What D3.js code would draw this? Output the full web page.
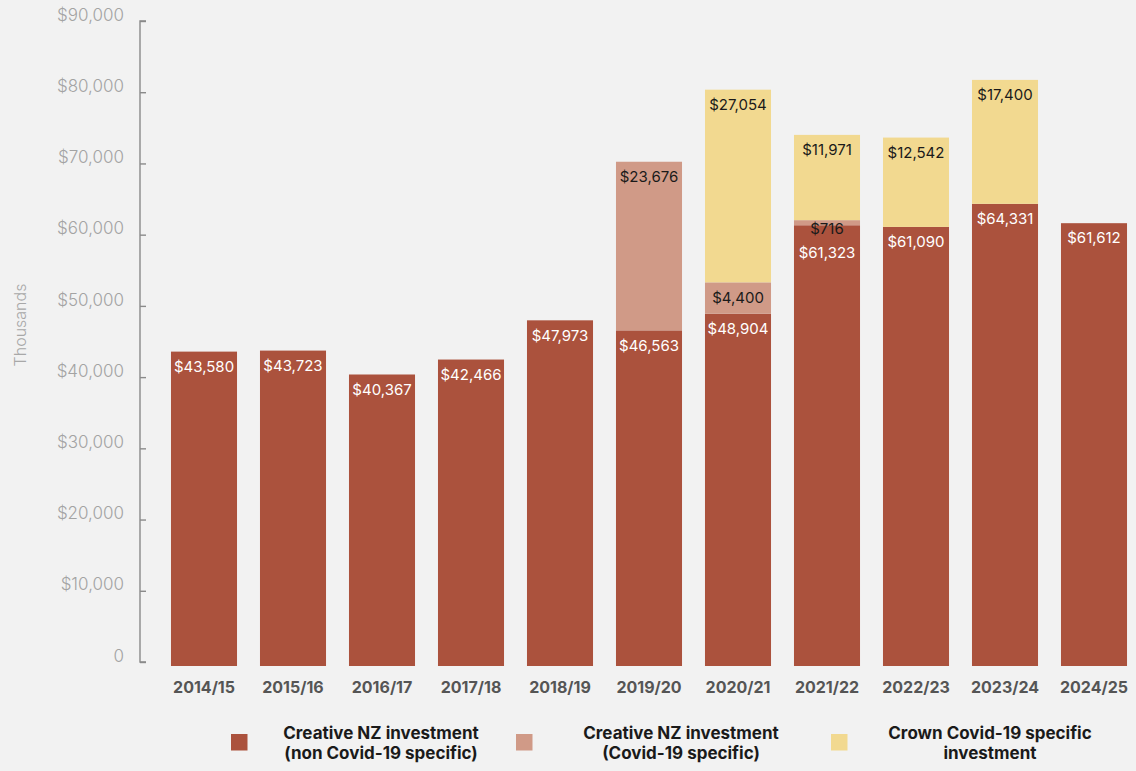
<!DOCTYPE html>
<html>
<head>
<meta charset="utf-8">
<script src="https://cdn.jsdelivr.net/npm/d3@7"></script>
<style>
  html, body { margin: 0; padding: 0; background: #f2f2f2; }
  svg { display: block; font-family: "Inter", "Noto Sans", sans-serif; }
</style>
</head>
<body>
<svg id="chart" width="1136" height="771"></svg>
<script>
// Funding by year, in thousands of dollars
const years = ["2014/15", "2015/16", "2016/17", "2017/18", "2018/19", "2019/20",
               "2020/21", "2021/22", "2022/23", "2023/24", "2024/25"];
const nonCovid   = [43580, 43723, 40367, 42466, 47973, 46563, 48904, 61323, 61090, 64331, 61612];
const covidCNZ   = [0, 0, 0, 0, 0, 23676, 4400, 716, 0, 0, 0];
const covidCrown = [0, 0, 0, 0, 0, 0, 27054, 11971, 12542, 17400, 0];

const seriesKeys   = ["nonCovid", "covidCNZ", "covidCrown"];
const seriesLabels = [
  ["Creative NZ investment", "(non Covid-19 specific)"],
  ["Creative NZ investment", "(Covid-19 specific)"],
  ["Crown Covid-19 specific", "investment"]
];
const seriesColors = ["#ab523d", "#d09a87", "#f2d990"];
const labelColors  = ["#ffffff", "#1a1a1a", "#1a1a1a"];
const yTicks = [0, 10000, 20000, 30000, 40000, 50000, 60000, 70000, 80000, 90000];

const rows = years.map((yr, i) => ({
  year: yr, nonCovid: nonCovid[i], covidCNZ: covidCNZ[i], covidCrown: covidCrown[i]
}));

const svg = d3.select("#chart");

const x = d3.scaleBand().domain(years).range([159.5, 1138.5])
  .paddingInner(0.258).paddingOuter(0.129);
const y = d3.scaleLinear().domain([0, 90000]).range([662, 21]);

const stacked = d3.stack().keys(seriesKeys)(rows);

// bars
const layers = svg.append("g").selectAll("g").data(stacked).join("g")
  .attr("fill", (d, i) => seriesColors[i]);
layers.selectAll("rect").data(d => d.filter(p => p[1] - p[0] > 0)).join("rect")
  .attr("x", d => x(d.data.year))
  .attr("width", x.bandwidth())
  .attr("y", d => y(d[1]))
  .attr("height", d => (d[0] === 0 ? y(0) + 4 : y(d[0])) - y(d[1]));

// value labels, placed from the top of each bar downwards
const fmt = d3.format("$,");
const labelG = svg.append("g").attr("font-size", 15).attr("text-anchor", "middle");
rows.forEach((row, i) => {
  let prevY = -Infinity;
  for (let k = seriesKeys.length - 1; k >= 0; k--) {
    const seg = stacked[k][i];
    const v = seg[1] - seg[0];
    if (v <= 0) continue;
    const top = y(seg[1]);
    const h = y(seg[0]) - top;
    let ly = h < 20 ? top + 9 : top + 15;
    ly = Math.max(ly, prevY + 24);
    prevY = ly;
    labelG.append("text")
      .attr("x", x(row.year) + x.bandwidth() / 2)
      .attr("y", ly)
      .attr("dy", "0.35em")
      .attr("fill", labelColors[k])
      .text(fmt(v));
  }
});

// y axis
const yAxis = d3.axisRight(y).tickValues(yTicks).tickSize(6)
  .tickFormat(d => d === 0 ? "0" : fmt(d));
const ya = svg.append("g").attr("transform", "translate(140,0)").call(yAxis);
ya.select(".domain").attr("stroke", "#8a8a8a").attr("stroke-width", 1.4)
  .attr("d", `M6,${y(90000)}H0V${y(0)}H6`);
ya.selectAll(".tick line").attr("stroke", "#8a8a8a").attr("stroke-width", 1.4);
ya.selectAll(".tick text")
  .attr("x", -16).attr("dy", "-0.05em")
  .attr("text-anchor", "end")
  .attr("fill", "#a3a3a3").attr("font-size", 17).attr("font-weight", 300)
  .attr("font-family", "Inter, sans-serif");

svg.append("text")
  .attr("transform", "translate(26,325) rotate(-90)")
  .attr("text-anchor", "middle")
  .attr("fill", "#a8a8a8").attr("font-size", 16).attr("font-weight", 300)
  .text("Thousands");

// x axis labels
const xa = svg.append("g").attr("transform", "translate(0,687)")
  .call(d3.axisBottom(x).tickSize(0).tickPadding(0));
xa.select(".domain").remove();
xa.selectAll(".tick text")
  .attr("dy", "0.35em").attr("y", 0)
  .attr("fill", "#555555").attr("font-size", 16).attr("font-weight", 700)
  .attr("font-family", "Inter, sans-serif");

// legend
const legendX = [231, 516, 831];
const legendTextX = [381, 681, 990];
const legend = svg.append("g");
seriesKeys.forEach((k, i) => {
  legend.append("rect")
    .attr("x", legendX[i]).attr("y", 734).attr("width", 16.5).attr("height", 16.5)
    .attr("fill", seriesColors[i]);
  const t = legend.append("text")
    .attr("x", legendTextX[i]).attr("text-anchor", "middle")
    .attr("fill", "#1a1a1a").attr("font-size", 17).attr("font-weight", 700);
  seriesLabels[i].forEach((line, j) => {
    t.append("tspan").attr("x", legendTextX[i]).attr("y", 733 + j * 20.5)
      .attr("dy", "0.35em").text(line);
  });
});
</script>
</body>
</html>
